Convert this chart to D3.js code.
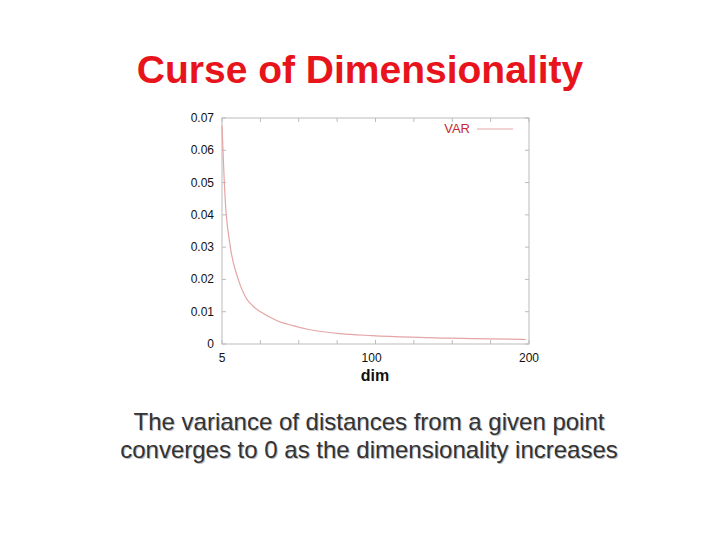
<!DOCTYPE html>
<html><head><meta charset="utf-8">
<script src="https://cdn.jsdelivr.net/npm/d3@7"></script>
<style>body{margin:0;background:#fff;} text{font-family:"Liberation Sans",Arial,sans-serif;}</style>
</head><body>
<script>
var dims = [5, 7, 10, 15, 20, 25, 30, 40, 50, 60, 80, 100, 125, 150, 175, 198];
var variance = [0.0677, 0.045, 0.031, 0.0205, 0.0145, 0.0116, 0.0098, 0.0072, 0.0057, 0.0045, 0.0032, 0.0026, 0.0021, 0.0018, 0.0016, 0.0014];
var yTicks = [0, 0.01, 0.02, 0.03, 0.04, 0.05, 0.06, 0.07];
var xLabels = [5, 100, 200];

var svg = d3.select("body").append("svg").attr("width", 720).attr("height", 540);
var pLeft = 222, pRight = 529, pTop = 118, pBottom = 344;

var x = d3.scaleLinear().domain([5, 200]).range([pLeft, pRight]);
var y = d3.scaleLinear().domain([0, 0.07]).range([pBottom, pTop]);

svg.append("text").attr("x", 360).attr("y", 83).attr("text-anchor", "middle")
  .attr("font-size", 39).attr("font-weight", "bold").attr("fill", "#e8141b").text("Curse of Dimensionality");

svg.append("rect").attr("x", pLeft).attr("y", pTop).attr("width", pRight - pLeft).attr("height", pBottom - pTop)
  .attr("fill", "none").attr("stroke", "#bbb");

// small tick marks on inner edges
var minor = d3.range(9).map(function(i){ return 5 + i * 195 / 8; });
minor.forEach(function(v){
  svg.append("line").attr("x1", x(v)).attr("x2", x(v)).attr("y1", pBottom).attr("y2", pBottom - 4).attr("stroke", "#bbb");
  svg.append("line").attr("x1", x(v)).attr("x2", x(v)).attr("y1", pTop).attr("y2", pTop + 4).attr("stroke", "#bbb");
});
yTicks.forEach(function(v){
  svg.append("line").attr("x1", pLeft).attr("x2", pLeft + 4).attr("y1", y(v)).attr("y2", y(v)).attr("stroke", "#bbb");
  svg.append("line").attr("x1", pRight).attr("x2", pRight - 4).attr("y1", y(v)).attr("y2", y(v)).attr("stroke", "#bbb");
  svg.append("text").attr("x", pLeft - 8).attr("y", y(v) + 4).attr("text-anchor", "end")
    .attr("font-size", 12).attr("fill", "#111").text(v === 0 ? "0" : v.toFixed(2));
});
xLabels.forEach(function(v){
  svg.append("text").attr("x", x(v)).attr("y", pBottom + 18).attr("text-anchor", "middle")
    .attr("font-size", 12).attr("fill", "#111").text(v);
});

var line = d3.line().x(function(d, i){ return x(dims[i]); }).y(function(d){ return y(d); }).curve(d3.curveMonotoneX);
svg.append("path").datum(variance).attr("d", line).attr("fill", "none").attr("stroke", "#e4a5a5").attr("stroke-width", 1.2);

svg.append("text").attr("x", 470).attr("y", 133).attr("text-anchor", "end").attr("font-size", 13)
  .attr("fill", "#c8282e").text("VAR");
svg.append("line").attr("x1", 477).attr("x2", 513).attr("y1", 129).attr("y2", 129).attr("stroke", "#e4a5a5");

svg.append("text").attr("x", 375).attr("y", 381).attr("text-anchor", "middle")
  .attr("font-size", 16).attr("font-weight", "bold").attr("fill", "#111").text("dim");

var caption = ["The variance of distances from a given point", "converges to 0 as the dimensionality increases"];
caption.forEach(function(t, i){
  svg.append("text").attr("x", 369).attr("y", 430 + i * 28).attr("text-anchor", "middle")
    .attr("font-size", 24).attr("fill", "#bbb").attr("transform", "translate(1,1)").text(t);
  svg.append("text").attr("x", 369).attr("y", 430 + i * 28).attr("text-anchor", "middle")
    .attr("font-size", 24).attr("fill", "#333").text(t);
});
</script>
</body></html>
